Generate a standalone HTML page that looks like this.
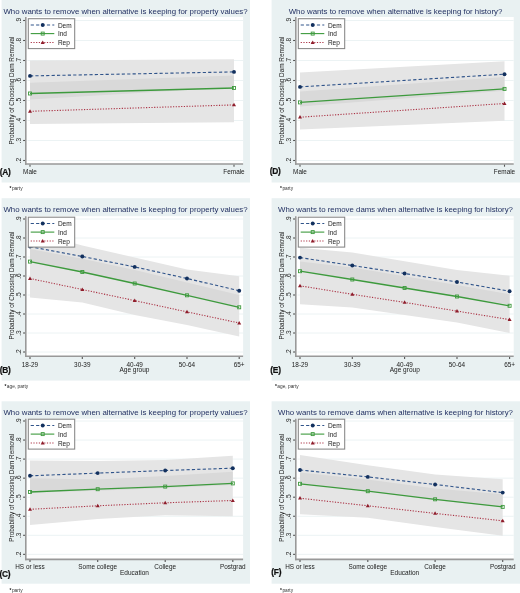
<!DOCTYPE html>
<html><head><meta charset="utf-8"><style>
html,body{margin:0;padding:0;background:#fff;}
body{width:520px;height:593px;overflow:hidden;font-family:"Liberation Sans", sans-serif;}
svg{display:block;will-change:transform;}
</style></head><body>
<svg width="520" height="593" viewBox="0 0 520 593" font-family="'Liberation Sans', sans-serif">
<rect x="1.6" y="0" width="248.4" height="182.5" fill="#e9f1f2"/>
<rect x="25.8" y="17" width="217.3" height="147" fill="#fff"/>
<text x="125.5" y="14.3" font-size="7.85" fill="#1d2b5e" text-anchor="middle">Who wants to remove when alternative is keeping for property values?</text>
<line x1="27.6" y1="20.5" x2="243.1" y2="20.5" stroke="#ecf3f4" stroke-width="1"/>
<line x1="27.6" y1="40.5" x2="243.1" y2="40.5" stroke="#ecf3f4" stroke-width="1"/>
<line x1="27.6" y1="60.5" x2="243.1" y2="60.5" stroke="#ecf3f4" stroke-width="1"/>
<line x1="27.6" y1="80.5" x2="243.1" y2="80.5" stroke="#ecf3f4" stroke-width="1"/>
<line x1="27.6" y1="100.5" x2="243.1" y2="100.5" stroke="#ecf3f4" stroke-width="1"/>
<line x1="27.6" y1="120.5" x2="243.1" y2="120.5" stroke="#ecf3f4" stroke-width="1"/>
<line x1="27.6" y1="140.5" x2="243.1" y2="140.5" stroke="#ecf3f4" stroke-width="1"/>
<line x1="27.6" y1="160.5" x2="243.1" y2="160.5" stroke="#ecf3f4" stroke-width="1"/>
<polygon points="30,60.6 234,59.2 234,122.3 30,124" fill="#e5e5e5"/>
<polygon points="30,82.8 234,75.4 234,87.2 30,99.4" fill="#d9d9d9"/>
<line x1="23.1" y1="20.5" x2="25.1" y2="20.5" stroke="#555555" stroke-width="1.1"/>
<text transform="translate(21.4,20.5) rotate(-90)" font-size="6.6" fill="#1a1a1a" text-anchor="middle">.9</text>
<line x1="23.1" y1="40.5" x2="25.1" y2="40.5" stroke="#555555" stroke-width="1.1"/>
<text transform="translate(21.4,40.5) rotate(-90)" font-size="6.6" fill="#1a1a1a" text-anchor="middle">.8</text>
<line x1="23.1" y1="60.5" x2="25.1" y2="60.5" stroke="#555555" stroke-width="1.1"/>
<text transform="translate(21.4,60.5) rotate(-90)" font-size="6.6" fill="#1a1a1a" text-anchor="middle">.7</text>
<line x1="23.1" y1="80.5" x2="25.1" y2="80.5" stroke="#555555" stroke-width="1.1"/>
<text transform="translate(21.4,80.5) rotate(-90)" font-size="6.6" fill="#1a1a1a" text-anchor="middle">.6</text>
<line x1="23.1" y1="100.5" x2="25.1" y2="100.5" stroke="#555555" stroke-width="1.1"/>
<text transform="translate(21.4,100.5) rotate(-90)" font-size="6.6" fill="#1a1a1a" text-anchor="middle">.5</text>
<line x1="23.1" y1="120.5" x2="25.1" y2="120.5" stroke="#555555" stroke-width="1.1"/>
<text transform="translate(21.4,120.5) rotate(-90)" font-size="6.6" fill="#1a1a1a" text-anchor="middle">.4</text>
<line x1="23.1" y1="140.5" x2="25.1" y2="140.5" stroke="#555555" stroke-width="1.1"/>
<text transform="translate(21.4,140.5) rotate(-90)" font-size="6.6" fill="#1a1a1a" text-anchor="middle">.3</text>
<line x1="23.1" y1="160.5" x2="25.1" y2="160.5" stroke="#555555" stroke-width="1.1"/>
<text transform="translate(21.4,160.5) rotate(-90)" font-size="6.6" fill="#1a1a1a" text-anchor="middle">.2</text>
<text transform="translate(14,90.5) rotate(-90)" font-size="6.4" fill="#1a1a1a" text-anchor="middle">Probability of Choosing Dam Removal</text>
<line x1="25.8" y1="17" x2="25.8" y2="164.8" stroke="#999999" stroke-width="1.6"/>
<line x1="25" y1="164" x2="243.1" y2="164" stroke="#999999" stroke-width="1.6"/>
<line x1="30" y1="164.7" x2="30" y2="166.7" stroke="#555555" stroke-width="1.1"/>
<text x="30" y="174.3" font-size="6.4" fill="#1a1a1a" text-anchor="middle">Male</text>
<line x1="234" y1="164.7" x2="234" y2="166.7" stroke="#555555" stroke-width="1.1"/>
<text x="234" y="174.3" font-size="6.4" fill="#1a1a1a" text-anchor="middle">Female</text>
<polyline points="30,75.9 234,71.9" fill="none" stroke="#30548a" stroke-width="1.1" stroke-dasharray="3.2 2.2"/>
<polyline points="30,93.5 234,88" fill="none" stroke="#3d9a3d" stroke-width="1.3"/>
<polyline points="30,111.3 234,104.9" fill="none" stroke="#ab3345" stroke-width="1.1" stroke-dasharray="1.2 1.5"/>
<circle cx="30" cy="75.9" r="1.95" fill="#12305e"/>
<circle cx="234" cy="71.9" r="1.95" fill="#12305e"/>
<rect x="28.5" y="92" width="3" height="3" fill="none" stroke="#3d9a3d" stroke-width="0.9"/>
<rect x="232.5" y="86.5" width="3" height="3" fill="none" stroke="#3d9a3d" stroke-width="0.9"/>
<polygon points="30,109.2 28,112.7 32,112.7" fill="#8e1c2a"/>
<polygon points="234,102.8 232,106.3 236,106.3" fill="#8e1c2a"/>
<rect x="28.3" y="18.7" width="46.4" height="29.9" fill="#fff" stroke="#858585" stroke-width="1.05"/>
<line x1="30.7" y1="25" x2="54.3" y2="25" stroke="#30548a" stroke-width="1.1" stroke-dasharray="3.2 2.2"/>
<circle cx="42.7" cy="25" r="1.95" fill="#12305e"/>
<text x="57.9" y="27.5" font-size="6.5" fill="#1a1a1a">Dem</text>
<line x1="30.7" y1="33.6" x2="54.3" y2="33.6" stroke="#3d9a3d" stroke-width="1.1"/>
<rect x="41.2" y="32.1" width="3" height="3" fill="none" stroke="#3d9a3d" stroke-width="0.9"/>
<text x="57.9" y="36.1" font-size="6.5" fill="#1a1a1a">Ind</text>
<line x1="30.7" y1="42.5" x2="54.3" y2="42.5" stroke="#ab3345" stroke-width="1.1" stroke-dasharray="1.2 1.5"/>
<polygon points="42.7,40.4 40.7,43.9 44.7,43.9" fill="#8e1c2a"/>
<text x="57.9" y="45" font-size="6.5" fill="#1a1a1a">Rep</text>
<text x="-0.3" y="174.8" font-size="8.4" font-weight="bold" letter-spacing="-0.25" fill="#111" stroke="#111" stroke-width="0.22">(A)</text>
<text x="9.5" y="190.2" font-size="4.8" font-weight="bold" fill="#111">*</text>
<text x="11.9" y="190" font-size="4.8" fill="#333">party</text>
<rect x="1.6" y="198.2" width="248.4" height="182.4" fill="#e9f1f2"/>
<rect x="25.8" y="216.2" width="217.3" height="140.1" fill="#fff"/>
<text x="125.5" y="212.3" font-size="7.85" fill="#1d2b5e" text-anchor="middle">Who wants to remove when alternative is keeping for property values?</text>
<line x1="27.6" y1="219" x2="243.1" y2="219" stroke="#ecf3f4" stroke-width="1"/>
<line x1="27.6" y1="238" x2="243.1" y2="238" stroke="#ecf3f4" stroke-width="1"/>
<line x1="27.6" y1="257" x2="243.1" y2="257" stroke="#ecf3f4" stroke-width="1"/>
<line x1="27.6" y1="276" x2="243.1" y2="276" stroke="#ecf3f4" stroke-width="1"/>
<line x1="27.6" y1="295" x2="243.1" y2="295" stroke="#ecf3f4" stroke-width="1"/>
<line x1="27.6" y1="314" x2="243.1" y2="314" stroke="#ecf3f4" stroke-width="1"/>
<line x1="27.6" y1="333" x2="243.1" y2="333" stroke="#ecf3f4" stroke-width="1"/>
<line x1="27.6" y1="352" x2="243.1" y2="352" stroke="#ecf3f4" stroke-width="1"/>
<polygon points="30,231.3 82.3,245.5 134.7,257.5 187,269.5 239.2,276.2 239.2,336.6 187,325 134.7,315 82.3,302.5 30,297.4" fill="#e5e5e5"/>
<polygon points="30,249 82.3,258.8 134.7,270 187,282.5 239.2,295 239.2,307.3 187,295.5 134.7,283.8 82.3,272.5 30,262" fill="#d9d9d9"/>
<line x1="23.1" y1="219" x2="25.1" y2="219" stroke="#555555" stroke-width="1.1"/>
<text transform="translate(21.4,219) rotate(-90)" font-size="6.6" fill="#1a1a1a" text-anchor="middle">.9</text>
<line x1="23.1" y1="238" x2="25.1" y2="238" stroke="#555555" stroke-width="1.1"/>
<text transform="translate(21.4,238) rotate(-90)" font-size="6.6" fill="#1a1a1a" text-anchor="middle">.8</text>
<line x1="23.1" y1="257" x2="25.1" y2="257" stroke="#555555" stroke-width="1.1"/>
<text transform="translate(21.4,257) rotate(-90)" font-size="6.6" fill="#1a1a1a" text-anchor="middle">.7</text>
<line x1="23.1" y1="276" x2="25.1" y2="276" stroke="#555555" stroke-width="1.1"/>
<text transform="translate(21.4,276) rotate(-90)" font-size="6.6" fill="#1a1a1a" text-anchor="middle">.6</text>
<line x1="23.1" y1="295" x2="25.1" y2="295" stroke="#555555" stroke-width="1.1"/>
<text transform="translate(21.4,295) rotate(-90)" font-size="6.6" fill="#1a1a1a" text-anchor="middle">.5</text>
<line x1="23.1" y1="314" x2="25.1" y2="314" stroke="#555555" stroke-width="1.1"/>
<text transform="translate(21.4,314) rotate(-90)" font-size="6.6" fill="#1a1a1a" text-anchor="middle">.4</text>
<line x1="23.1" y1="333" x2="25.1" y2="333" stroke="#555555" stroke-width="1.1"/>
<text transform="translate(21.4,333) rotate(-90)" font-size="6.6" fill="#1a1a1a" text-anchor="middle">.3</text>
<line x1="23.1" y1="352" x2="25.1" y2="352" stroke="#555555" stroke-width="1.1"/>
<text transform="translate(21.4,352) rotate(-90)" font-size="6.6" fill="#1a1a1a" text-anchor="middle">.2</text>
<text transform="translate(14,285.5) rotate(-90)" font-size="6.4" fill="#1a1a1a" text-anchor="middle">Probability of Choosing Dam Removal</text>
<line x1="25.8" y1="216.2" x2="25.8" y2="357.1" stroke="#999999" stroke-width="1.6"/>
<line x1="25" y1="356.3" x2="243.1" y2="356.3" stroke="#999999" stroke-width="1.6"/>
<line x1="30" y1="357" x2="30" y2="359" stroke="#555555" stroke-width="1.1"/>
<text x="30" y="366.8" font-size="6.4" fill="#1a1a1a" text-anchor="middle">18-29</text>
<line x1="82.3" y1="357" x2="82.3" y2="359" stroke="#555555" stroke-width="1.1"/>
<text x="82.3" y="366.8" font-size="6.4" fill="#1a1a1a" text-anchor="middle">30-39</text>
<line x1="134.7" y1="357" x2="134.7" y2="359" stroke="#555555" stroke-width="1.1"/>
<text x="134.7" y="366.8" font-size="6.4" fill="#1a1a1a" text-anchor="middle">40-49</text>
<line x1="187" y1="357" x2="187" y2="359" stroke="#555555" stroke-width="1.1"/>
<text x="187" y="366.8" font-size="6.4" fill="#1a1a1a" text-anchor="middle">50-64</text>
<line x1="239.2" y1="357" x2="239.2" y2="359" stroke="#555555" stroke-width="1.1"/>
<text x="239.2" y="366.8" font-size="6.4" fill="#1a1a1a" text-anchor="middle">65+</text>
<text x="134.45" y="372.3" font-size="6.5" fill="#1a1a1a" text-anchor="middle">Age group</text>
<polyline points="30,246.6 82.3,256.5 134.7,266.9 187,278.5 239.2,290.7" fill="none" stroke="#30548a" stroke-width="1.1" stroke-dasharray="3.2 2.2"/>
<polyline points="30,261.6 82.3,272 134.7,283.5 187,295.3 239.2,307.3" fill="none" stroke="#3d9a3d" stroke-width="1.3"/>
<polyline points="30,278.5 82.3,289.5 134.7,300.6 187,311.9 239.2,323" fill="none" stroke="#ab3345" stroke-width="1.1" stroke-dasharray="1.2 1.5"/>
<circle cx="30" cy="246.6" r="1.95" fill="#12305e"/>
<circle cx="82.3" cy="256.5" r="1.95" fill="#12305e"/>
<circle cx="134.7" cy="266.9" r="1.95" fill="#12305e"/>
<circle cx="187" cy="278.5" r="1.95" fill="#12305e"/>
<circle cx="239.2" cy="290.7" r="1.95" fill="#12305e"/>
<rect x="28.5" y="260.1" width="3" height="3" fill="none" stroke="#3d9a3d" stroke-width="0.9"/>
<rect x="80.8" y="270.5" width="3" height="3" fill="none" stroke="#3d9a3d" stroke-width="0.9"/>
<rect x="133.2" y="282" width="3" height="3" fill="none" stroke="#3d9a3d" stroke-width="0.9"/>
<rect x="185.5" y="293.8" width="3" height="3" fill="none" stroke="#3d9a3d" stroke-width="0.9"/>
<rect x="237.7" y="305.8" width="3" height="3" fill="none" stroke="#3d9a3d" stroke-width="0.9"/>
<polygon points="30,276.4 28,279.9 32,279.9" fill="#8e1c2a"/>
<polygon points="82.3,287.4 80.3,290.9 84.3,290.9" fill="#8e1c2a"/>
<polygon points="134.7,298.5 132.7,302 136.7,302" fill="#8e1c2a"/>
<polygon points="187,309.8 185,313.3 189,313.3" fill="#8e1c2a"/>
<polygon points="239.2,320.9 237.2,324.4 241.2,324.4" fill="#8e1c2a"/>
<rect x="28.3" y="217.2" width="46.4" height="29.9" fill="#fff" stroke="#858585" stroke-width="1.05"/>
<line x1="30.7" y1="223.5" x2="54.3" y2="223.5" stroke="#30548a" stroke-width="1.1" stroke-dasharray="3.2 2.2"/>
<circle cx="42.7" cy="223.5" r="1.95" fill="#12305e"/>
<text x="57.9" y="226" font-size="6.5" fill="#1a1a1a">Dem</text>
<line x1="30.7" y1="232.1" x2="54.3" y2="232.1" stroke="#3d9a3d" stroke-width="1.1"/>
<rect x="41.2" y="230.6" width="3" height="3" fill="none" stroke="#3d9a3d" stroke-width="0.9"/>
<text x="57.9" y="234.6" font-size="6.5" fill="#1a1a1a">Ind</text>
<line x1="30.7" y1="241" x2="54.3" y2="241" stroke="#ab3345" stroke-width="1.1" stroke-dasharray="1.2 1.5"/>
<polygon points="42.7,238.9 40.7,242.4 44.7,242.4" fill="#8e1c2a"/>
<text x="57.9" y="243.5" font-size="6.5" fill="#1a1a1a">Rep</text>
<text x="-0.3" y="373.4" font-size="8.4" font-weight="bold" letter-spacing="-0.25" fill="#111" stroke="#111" stroke-width="0.22">(B)</text>
<text x="4.5" y="387.8" font-size="4.8" font-weight="bold" fill="#111">*</text>
<text x="6.8" y="387.6" font-size="4.8" fill="#333">age, party</text>
<rect x="1.6" y="401.3" width="248.4" height="182.4" fill="#e9f1f2"/>
<rect x="25.8" y="418.7" width="217.3" height="140.7" fill="#fff"/>
<text x="125.5" y="415" font-size="7.85" fill="#1d2b5e" text-anchor="middle">Who wants to remove when alternative is keeping for property values?</text>
<line x1="27.6" y1="421" x2="243.1" y2="421" stroke="#ecf3f4" stroke-width="1"/>
<line x1="27.6" y1="440.05" x2="243.1" y2="440.05" stroke="#ecf3f4" stroke-width="1"/>
<line x1="27.6" y1="459.1" x2="243.1" y2="459.1" stroke="#ecf3f4" stroke-width="1"/>
<line x1="27.6" y1="478.15" x2="243.1" y2="478.15" stroke="#ecf3f4" stroke-width="1"/>
<line x1="27.6" y1="497.2" x2="243.1" y2="497.2" stroke="#ecf3f4" stroke-width="1"/>
<line x1="27.6" y1="516.25" x2="243.1" y2="516.25" stroke="#ecf3f4" stroke-width="1"/>
<line x1="27.6" y1="535.3" x2="243.1" y2="535.3" stroke="#ecf3f4" stroke-width="1"/>
<line x1="27.6" y1="554.35" x2="243.1" y2="554.35" stroke="#ecf3f4" stroke-width="1"/>
<polygon points="30,460.4 97.7,461.1 165.2,459.9 232.8,455.7 232.8,516.2 165.2,515.3 97.7,519.1 30,525" fill="#e5e5e5"/>
<polygon points="30,478.2 97.7,479.5 165.2,476 232.8,471.8 232.8,485 165.2,488 97.7,490.8 30,492.7" fill="#d9d9d9"/>
<line x1="23.1" y1="421" x2="25.1" y2="421" stroke="#555555" stroke-width="1.1"/>
<text transform="translate(21.4,421) rotate(-90)" font-size="6.6" fill="#1a1a1a" text-anchor="middle">.9</text>
<line x1="23.1" y1="440.05" x2="25.1" y2="440.05" stroke="#555555" stroke-width="1.1"/>
<text transform="translate(21.4,440.05) rotate(-90)" font-size="6.6" fill="#1a1a1a" text-anchor="middle">.8</text>
<line x1="23.1" y1="459.1" x2="25.1" y2="459.1" stroke="#555555" stroke-width="1.1"/>
<text transform="translate(21.4,459.1) rotate(-90)" font-size="6.6" fill="#1a1a1a" text-anchor="middle">.7</text>
<line x1="23.1" y1="478.15" x2="25.1" y2="478.15" stroke="#555555" stroke-width="1.1"/>
<text transform="translate(21.4,478.15) rotate(-90)" font-size="6.6" fill="#1a1a1a" text-anchor="middle">.6</text>
<line x1="23.1" y1="497.2" x2="25.1" y2="497.2" stroke="#555555" stroke-width="1.1"/>
<text transform="translate(21.4,497.2) rotate(-90)" font-size="6.6" fill="#1a1a1a" text-anchor="middle">.5</text>
<line x1="23.1" y1="516.25" x2="25.1" y2="516.25" stroke="#555555" stroke-width="1.1"/>
<text transform="translate(21.4,516.25) rotate(-90)" font-size="6.6" fill="#1a1a1a" text-anchor="middle">.4</text>
<line x1="23.1" y1="535.3" x2="25.1" y2="535.3" stroke="#555555" stroke-width="1.1"/>
<text transform="translate(21.4,535.3) rotate(-90)" font-size="6.6" fill="#1a1a1a" text-anchor="middle">.3</text>
<line x1="23.1" y1="554.35" x2="25.1" y2="554.35" stroke="#555555" stroke-width="1.1"/>
<text transform="translate(21.4,554.35) rotate(-90)" font-size="6.6" fill="#1a1a1a" text-anchor="middle">.2</text>
<text transform="translate(14,487.68) rotate(-90)" font-size="6.4" fill="#1a1a1a" text-anchor="middle">Probability of Choosing Dam Removal</text>
<line x1="25.8" y1="418.7" x2="25.8" y2="560.2" stroke="#999999" stroke-width="1.6"/>
<line x1="25" y1="559.4" x2="243.1" y2="559.4" stroke="#999999" stroke-width="1.6"/>
<line x1="30" y1="560.1" x2="30" y2="562.1" stroke="#555555" stroke-width="1.1"/>
<text x="30" y="569.1" font-size="6.4" fill="#1a1a1a" text-anchor="middle">HS or less</text>
<line x1="97.7" y1="560.1" x2="97.7" y2="562.1" stroke="#555555" stroke-width="1.1"/>
<text x="97.7" y="569.1" font-size="6.4" fill="#1a1a1a" text-anchor="middle">Some college</text>
<line x1="165.2" y1="560.1" x2="165.2" y2="562.1" stroke="#555555" stroke-width="1.1"/>
<text x="165.2" y="569.1" font-size="6.4" fill="#1a1a1a" text-anchor="middle">College</text>
<line x1="232.8" y1="560.1" x2="232.8" y2="562.1" stroke="#555555" stroke-width="1.1"/>
<text x="232.8" y="569.1" font-size="6.4" fill="#1a1a1a" text-anchor="middle">Postgrad</text>
<text x="134.45" y="574.9" font-size="6.5" fill="#1a1a1a" text-anchor="middle">Education</text>
<polyline points="30,475.8 97.7,473.1 165.2,470.5 232.8,468.2" fill="none" stroke="#30548a" stroke-width="1.1" stroke-dasharray="3.2 2.2"/>
<polyline points="30,492 97.7,489.2 165.2,486.6 232.8,483.4" fill="none" stroke="#3d9a3d" stroke-width="1.3"/>
<polyline points="30,509.3 97.7,505.8 165.2,502.8 232.8,500.5" fill="none" stroke="#ab3345" stroke-width="1.1" stroke-dasharray="1.2 1.5"/>
<circle cx="30" cy="475.8" r="1.95" fill="#12305e"/>
<circle cx="97.7" cy="473.1" r="1.95" fill="#12305e"/>
<circle cx="165.2" cy="470.5" r="1.95" fill="#12305e"/>
<circle cx="232.8" cy="468.2" r="1.95" fill="#12305e"/>
<rect x="28.5" y="490.5" width="3" height="3" fill="none" stroke="#3d9a3d" stroke-width="0.9"/>
<rect x="96.2" y="487.7" width="3" height="3" fill="none" stroke="#3d9a3d" stroke-width="0.9"/>
<rect x="163.7" y="485.1" width="3" height="3" fill="none" stroke="#3d9a3d" stroke-width="0.9"/>
<rect x="231.3" y="481.9" width="3" height="3" fill="none" stroke="#3d9a3d" stroke-width="0.9"/>
<polygon points="30,507.2 28,510.7 32,510.7" fill="#8e1c2a"/>
<polygon points="97.7,503.7 95.7,507.2 99.7,507.2" fill="#8e1c2a"/>
<polygon points="165.2,500.7 163.2,504.2 167.2,504.2" fill="#8e1c2a"/>
<polygon points="232.8,498.4 230.8,501.9 234.8,501.9" fill="#8e1c2a"/>
<rect x="28.3" y="419.2" width="46.4" height="29.9" fill="#fff" stroke="#858585" stroke-width="1.05"/>
<line x1="30.7" y1="425.5" x2="54.3" y2="425.5" stroke="#30548a" stroke-width="1.1" stroke-dasharray="3.2 2.2"/>
<circle cx="42.7" cy="425.5" r="1.95" fill="#12305e"/>
<text x="57.9" y="428" font-size="6.5" fill="#1a1a1a">Dem</text>
<line x1="30.7" y1="434.1" x2="54.3" y2="434.1" stroke="#3d9a3d" stroke-width="1.1"/>
<rect x="41.2" y="432.6" width="3" height="3" fill="none" stroke="#3d9a3d" stroke-width="0.9"/>
<text x="57.9" y="436.6" font-size="6.5" fill="#1a1a1a">Ind</text>
<line x1="30.7" y1="443" x2="54.3" y2="443" stroke="#ab3345" stroke-width="1.1" stroke-dasharray="1.2 1.5"/>
<polygon points="42.7,440.9 40.7,444.4 44.7,444.4" fill="#8e1c2a"/>
<text x="57.9" y="445.5" font-size="6.5" fill="#1a1a1a">Rep</text>
<text x="-0.6" y="577.3" font-size="8.4" font-weight="bold" letter-spacing="-0.25" fill="#111" stroke="#111" stroke-width="0.22">(C)</text>
<text x="9.5" y="592" font-size="4.8" font-weight="bold" fill="#111">*</text>
<text x="11.9" y="591.8" font-size="4.8" fill="#333">party</text>
<rect x="271.6" y="0" width="248.4" height="182.5" fill="#e9f1f2"/>
<rect x="295.8" y="17" width="217.9" height="147" fill="#fff"/>
<text x="395.5" y="14.3" font-size="7.85" fill="#1d2b5e" text-anchor="middle">Who wants to remove when alternative is keeping for history?</text>
<line x1="297.6" y1="20.5" x2="513.7" y2="20.5" stroke="#ecf3f4" stroke-width="1"/>
<line x1="297.6" y1="40.5" x2="513.7" y2="40.5" stroke="#ecf3f4" stroke-width="1"/>
<line x1="297.6" y1="60.5" x2="513.7" y2="60.5" stroke="#ecf3f4" stroke-width="1"/>
<line x1="297.6" y1="80.5" x2="513.7" y2="80.5" stroke="#ecf3f4" stroke-width="1"/>
<line x1="297.6" y1="100.5" x2="513.7" y2="100.5" stroke="#ecf3f4" stroke-width="1"/>
<line x1="297.6" y1="120.5" x2="513.7" y2="120.5" stroke="#ecf3f4" stroke-width="1"/>
<line x1="297.6" y1="140.5" x2="513.7" y2="140.5" stroke="#ecf3f4" stroke-width="1"/>
<line x1="297.6" y1="160.5" x2="513.7" y2="160.5" stroke="#ecf3f4" stroke-width="1"/>
<polygon points="300,72.6 504.5,61.2 504.5,120.8 300,129.6" fill="#e5e5e5"/>
<polygon points="300,91.5 504.5,76.9 504.5,90.8 300,106.5" fill="#d9d9d9"/>
<line x1="293.1" y1="20.5" x2="295.1" y2="20.5" stroke="#555555" stroke-width="1.1"/>
<text transform="translate(291.4,20.5) rotate(-90)" font-size="6.6" fill="#1a1a1a" text-anchor="middle">.9</text>
<line x1="293.1" y1="40.5" x2="295.1" y2="40.5" stroke="#555555" stroke-width="1.1"/>
<text transform="translate(291.4,40.5) rotate(-90)" font-size="6.6" fill="#1a1a1a" text-anchor="middle">.8</text>
<line x1="293.1" y1="60.5" x2="295.1" y2="60.5" stroke="#555555" stroke-width="1.1"/>
<text transform="translate(291.4,60.5) rotate(-90)" font-size="6.6" fill="#1a1a1a" text-anchor="middle">.7</text>
<line x1="293.1" y1="80.5" x2="295.1" y2="80.5" stroke="#555555" stroke-width="1.1"/>
<text transform="translate(291.4,80.5) rotate(-90)" font-size="6.6" fill="#1a1a1a" text-anchor="middle">.6</text>
<line x1="293.1" y1="100.5" x2="295.1" y2="100.5" stroke="#555555" stroke-width="1.1"/>
<text transform="translate(291.4,100.5) rotate(-90)" font-size="6.6" fill="#1a1a1a" text-anchor="middle">.5</text>
<line x1="293.1" y1="120.5" x2="295.1" y2="120.5" stroke="#555555" stroke-width="1.1"/>
<text transform="translate(291.4,120.5) rotate(-90)" font-size="6.6" fill="#1a1a1a" text-anchor="middle">.4</text>
<line x1="293.1" y1="140.5" x2="295.1" y2="140.5" stroke="#555555" stroke-width="1.1"/>
<text transform="translate(291.4,140.5) rotate(-90)" font-size="6.6" fill="#1a1a1a" text-anchor="middle">.3</text>
<line x1="293.1" y1="160.5" x2="295.1" y2="160.5" stroke="#555555" stroke-width="1.1"/>
<text transform="translate(291.4,160.5) rotate(-90)" font-size="6.6" fill="#1a1a1a" text-anchor="middle">.2</text>
<text transform="translate(284,90.5) rotate(-90)" font-size="6.4" fill="#1a1a1a" text-anchor="middle">Probability of Choosing Dam Removal</text>
<line x1="295.8" y1="17" x2="295.8" y2="164.8" stroke="#999999" stroke-width="1.6"/>
<line x1="295" y1="164" x2="513.7" y2="164" stroke="#999999" stroke-width="1.6"/>
<line x1="300" y1="164.7" x2="300" y2="166.7" stroke="#555555" stroke-width="1.1"/>
<text x="300" y="174.3" font-size="6.4" fill="#1a1a1a" text-anchor="middle">Male</text>
<line x1="504.5" y1="164.7" x2="504.5" y2="166.7" stroke="#555555" stroke-width="1.1"/>
<text x="504.5" y="174.3" font-size="6.4" fill="#1a1a1a" text-anchor="middle">Female</text>
<polyline points="300,86.9 504.5,74.2" fill="none" stroke="#30548a" stroke-width="1.1" stroke-dasharray="3.2 2.2"/>
<polyline points="300,102.4 504.5,88.9" fill="none" stroke="#3d9a3d" stroke-width="1.3"/>
<polyline points="300,117.2 504.5,103.5" fill="none" stroke="#ab3345" stroke-width="1.1" stroke-dasharray="1.2 1.5"/>
<circle cx="300" cy="86.9" r="1.95" fill="#12305e"/>
<circle cx="504.5" cy="74.2" r="1.95" fill="#12305e"/>
<rect x="298.5" y="100.9" width="3" height="3" fill="none" stroke="#3d9a3d" stroke-width="0.9"/>
<rect x="503" y="87.4" width="3" height="3" fill="none" stroke="#3d9a3d" stroke-width="0.9"/>
<polygon points="300,115.1 298,118.6 302,118.6" fill="#8e1c2a"/>
<polygon points="504.5,101.4 502.5,104.9 506.5,104.9" fill="#8e1c2a"/>
<rect x="298.3" y="18.7" width="46.4" height="29.9" fill="#fff" stroke="#858585" stroke-width="1.05"/>
<line x1="300.7" y1="25" x2="324.3" y2="25" stroke="#30548a" stroke-width="1.1" stroke-dasharray="3.2 2.2"/>
<circle cx="312.7" cy="25" r="1.95" fill="#12305e"/>
<text x="327.9" y="27.5" font-size="6.5" fill="#1a1a1a">Dem</text>
<line x1="300.7" y1="33.6" x2="324.3" y2="33.6" stroke="#3d9a3d" stroke-width="1.1"/>
<rect x="311.2" y="32.1" width="3" height="3" fill="none" stroke="#3d9a3d" stroke-width="0.9"/>
<text x="327.9" y="36.1" font-size="6.5" fill="#1a1a1a">Ind</text>
<line x1="300.7" y1="42.5" x2="324.3" y2="42.5" stroke="#ab3345" stroke-width="1.1" stroke-dasharray="1.2 1.5"/>
<polygon points="312.7,40.4 310.7,43.9 314.7,43.9" fill="#8e1c2a"/>
<text x="327.9" y="45" font-size="6.5" fill="#1a1a1a">Rep</text>
<text x="269.7" y="174.4" font-size="8.4" font-weight="bold" letter-spacing="-0.25" fill="#111" stroke="#111" stroke-width="0.22">(D)</text>
<text x="280" y="190.2" font-size="4.8" font-weight="bold" fill="#111">*</text>
<text x="282.4" y="190" font-size="4.8" fill="#333">party</text>
<rect x="271.6" y="198.2" width="248.4" height="182.4" fill="#e9f1f2"/>
<rect x="295.8" y="216.2" width="217.9" height="140.1" fill="#fff"/>
<text x="395.5" y="212.3" font-size="7.85" fill="#1d2b5e" text-anchor="middle">Who wants to remove dams when alternative is keeping for history?</text>
<line x1="297.6" y1="219" x2="513.7" y2="219" stroke="#ecf3f4" stroke-width="1"/>
<line x1="297.6" y1="238" x2="513.7" y2="238" stroke="#ecf3f4" stroke-width="1"/>
<line x1="297.6" y1="257" x2="513.7" y2="257" stroke="#ecf3f4" stroke-width="1"/>
<line x1="297.6" y1="276" x2="513.7" y2="276" stroke="#ecf3f4" stroke-width="1"/>
<line x1="297.6" y1="295" x2="513.7" y2="295" stroke="#ecf3f4" stroke-width="1"/>
<line x1="297.6" y1="314" x2="513.7" y2="314" stroke="#ecf3f4" stroke-width="1"/>
<line x1="297.6" y1="333" x2="513.7" y2="333" stroke="#ecf3f4" stroke-width="1"/>
<line x1="297.6" y1="352" x2="513.7" y2="352" stroke="#ecf3f4" stroke-width="1"/>
<polygon points="300,247.7 352.3,252.5 404.6,261.2 457,270 509.6,275.8 509.6,333 457,322.5 404.6,315 352.3,307.5 300,304.2" fill="#e5e5e5"/>
<polygon points="300,261.5 352.3,267.5 404.6,276.2 457,285 509.6,294.2 509.6,304.6 457,297 404.6,287.5 352.3,278.8 300,271.2" fill="#d9d9d9"/>
<line x1="293.1" y1="219" x2="295.1" y2="219" stroke="#555555" stroke-width="1.1"/>
<text transform="translate(291.4,219) rotate(-90)" font-size="6.6" fill="#1a1a1a" text-anchor="middle">.9</text>
<line x1="293.1" y1="238" x2="295.1" y2="238" stroke="#555555" stroke-width="1.1"/>
<text transform="translate(291.4,238) rotate(-90)" font-size="6.6" fill="#1a1a1a" text-anchor="middle">.8</text>
<line x1="293.1" y1="257" x2="295.1" y2="257" stroke="#555555" stroke-width="1.1"/>
<text transform="translate(291.4,257) rotate(-90)" font-size="6.6" fill="#1a1a1a" text-anchor="middle">.7</text>
<line x1="293.1" y1="276" x2="295.1" y2="276" stroke="#555555" stroke-width="1.1"/>
<text transform="translate(291.4,276) rotate(-90)" font-size="6.6" fill="#1a1a1a" text-anchor="middle">.6</text>
<line x1="293.1" y1="295" x2="295.1" y2="295" stroke="#555555" stroke-width="1.1"/>
<text transform="translate(291.4,295) rotate(-90)" font-size="6.6" fill="#1a1a1a" text-anchor="middle">.5</text>
<line x1="293.1" y1="314" x2="295.1" y2="314" stroke="#555555" stroke-width="1.1"/>
<text transform="translate(291.4,314) rotate(-90)" font-size="6.6" fill="#1a1a1a" text-anchor="middle">.4</text>
<line x1="293.1" y1="333" x2="295.1" y2="333" stroke="#555555" stroke-width="1.1"/>
<text transform="translate(291.4,333) rotate(-90)" font-size="6.6" fill="#1a1a1a" text-anchor="middle">.3</text>
<line x1="293.1" y1="352" x2="295.1" y2="352" stroke="#555555" stroke-width="1.1"/>
<text transform="translate(291.4,352) rotate(-90)" font-size="6.6" fill="#1a1a1a" text-anchor="middle">.2</text>
<text transform="translate(284,285.5) rotate(-90)" font-size="6.4" fill="#1a1a1a" text-anchor="middle">Probability of Choosing Dam Removal</text>
<line x1="295.8" y1="216.2" x2="295.8" y2="357.1" stroke="#999999" stroke-width="1.6"/>
<line x1="295" y1="356.3" x2="513.7" y2="356.3" stroke="#999999" stroke-width="1.6"/>
<line x1="300" y1="357" x2="300" y2="359" stroke="#555555" stroke-width="1.1"/>
<text x="300" y="366.8" font-size="6.4" fill="#1a1a1a" text-anchor="middle">18-29</text>
<line x1="352.3" y1="357" x2="352.3" y2="359" stroke="#555555" stroke-width="1.1"/>
<text x="352.3" y="366.8" font-size="6.4" fill="#1a1a1a" text-anchor="middle">30-39</text>
<line x1="404.6" y1="357" x2="404.6" y2="359" stroke="#555555" stroke-width="1.1"/>
<text x="404.6" y="366.8" font-size="6.4" fill="#1a1a1a" text-anchor="middle">40-49</text>
<line x1="457" y1="357" x2="457" y2="359" stroke="#555555" stroke-width="1.1"/>
<text x="457" y="366.8" font-size="6.4" fill="#1a1a1a" text-anchor="middle">50-64</text>
<line x1="509.6" y1="357" x2="509.6" y2="359" stroke="#555555" stroke-width="1.1"/>
<text x="509.6" y="366.8" font-size="6.4" fill="#1a1a1a" text-anchor="middle">65+</text>
<text x="404.75" y="372.3" font-size="6.5" fill="#1a1a1a" text-anchor="middle">Age group</text>
<polyline points="300,257.6 352.3,265.5 404.6,273.5 457,282 509.6,291.2" fill="none" stroke="#30548a" stroke-width="1.1" stroke-dasharray="3.2 2.2"/>
<polyline points="300,271.2 352.3,279.5 404.6,288 457,296.5 509.6,305.8" fill="none" stroke="#3d9a3d" stroke-width="1.3"/>
<polyline points="300,285.8 352.3,294.3 404.6,302.4 457,311.1 509.6,319.6" fill="none" stroke="#ab3345" stroke-width="1.1" stroke-dasharray="1.2 1.5"/>
<circle cx="300" cy="257.6" r="1.95" fill="#12305e"/>
<circle cx="352.3" cy="265.5" r="1.95" fill="#12305e"/>
<circle cx="404.6" cy="273.5" r="1.95" fill="#12305e"/>
<circle cx="457" cy="282" r="1.95" fill="#12305e"/>
<circle cx="509.6" cy="291.2" r="1.95" fill="#12305e"/>
<rect x="298.5" y="269.7" width="3" height="3" fill="none" stroke="#3d9a3d" stroke-width="0.9"/>
<rect x="350.8" y="278" width="3" height="3" fill="none" stroke="#3d9a3d" stroke-width="0.9"/>
<rect x="403.1" y="286.5" width="3" height="3" fill="none" stroke="#3d9a3d" stroke-width="0.9"/>
<rect x="455.5" y="295" width="3" height="3" fill="none" stroke="#3d9a3d" stroke-width="0.9"/>
<rect x="508.1" y="304.3" width="3" height="3" fill="none" stroke="#3d9a3d" stroke-width="0.9"/>
<polygon points="300,283.7 298,287.2 302,287.2" fill="#8e1c2a"/>
<polygon points="352.3,292.2 350.3,295.7 354.3,295.7" fill="#8e1c2a"/>
<polygon points="404.6,300.3 402.6,303.8 406.6,303.8" fill="#8e1c2a"/>
<polygon points="457,309 455,312.5 459,312.5" fill="#8e1c2a"/>
<polygon points="509.6,317.5 507.6,321 511.6,321" fill="#8e1c2a"/>
<rect x="298.3" y="217.2" width="46.4" height="29.9" fill="#fff" stroke="#858585" stroke-width="1.05"/>
<line x1="300.7" y1="223.5" x2="324.3" y2="223.5" stroke="#30548a" stroke-width="1.1" stroke-dasharray="3.2 2.2"/>
<circle cx="312.7" cy="223.5" r="1.95" fill="#12305e"/>
<text x="327.9" y="226" font-size="6.5" fill="#1a1a1a">Dem</text>
<line x1="300.7" y1="232.1" x2="324.3" y2="232.1" stroke="#3d9a3d" stroke-width="1.1"/>
<rect x="311.2" y="230.6" width="3" height="3" fill="none" stroke="#3d9a3d" stroke-width="0.9"/>
<text x="327.9" y="234.6" font-size="6.5" fill="#1a1a1a">Ind</text>
<line x1="300.7" y1="241" x2="324.3" y2="241" stroke="#ab3345" stroke-width="1.1" stroke-dasharray="1.2 1.5"/>
<polygon points="312.7,238.9 310.7,242.4 314.7,242.4" fill="#8e1c2a"/>
<text x="327.9" y="243.5" font-size="6.5" fill="#1a1a1a">Rep</text>
<text x="270.3" y="373.4" font-size="8.4" font-weight="bold" letter-spacing="-0.25" fill="#111" stroke="#111" stroke-width="0.22">(E)</text>
<text x="275" y="387.8" font-size="4.8" font-weight="bold" fill="#111">*</text>
<text x="277.3" y="387.6" font-size="4.8" fill="#333">age, party</text>
<rect x="271.6" y="401.3" width="248.4" height="182.4" fill="#e9f1f2"/>
<rect x="295.8" y="418.7" width="217.9" height="140.7" fill="#fff"/>
<text x="395.5" y="415" font-size="7.85" fill="#1d2b5e" text-anchor="middle">Who wants to remove dams when alternative is keeping for history?</text>
<line x1="297.6" y1="421" x2="513.7" y2="421" stroke="#ecf3f4" stroke-width="1"/>
<line x1="297.6" y1="440.05" x2="513.7" y2="440.05" stroke="#ecf3f4" stroke-width="1"/>
<line x1="297.6" y1="459.1" x2="513.7" y2="459.1" stroke="#ecf3f4" stroke-width="1"/>
<line x1="297.6" y1="478.15" x2="513.7" y2="478.15" stroke="#ecf3f4" stroke-width="1"/>
<line x1="297.6" y1="497.2" x2="513.7" y2="497.2" stroke="#ecf3f4" stroke-width="1"/>
<line x1="297.6" y1="516.25" x2="513.7" y2="516.25" stroke="#ecf3f4" stroke-width="1"/>
<line x1="297.6" y1="535.3" x2="513.7" y2="535.3" stroke="#ecf3f4" stroke-width="1"/>
<line x1="297.6" y1="554.35" x2="513.7" y2="554.35" stroke="#ecf3f4" stroke-width="1"/>
<polygon points="300,455 367.8,465.2 435.1,474.6 502.7,479.2 502.7,535.8 435.1,527 367.8,517.7 300,514.3" fill="#e5e5e5"/>
<polygon points="300,472.5 367.8,479.5 435.1,488.5 502.7,494.2 502.7,507 435.1,500.2 367.8,491.3 300,483.8" fill="#d9d9d9"/>
<line x1="293.1" y1="421" x2="295.1" y2="421" stroke="#555555" stroke-width="1.1"/>
<text transform="translate(291.4,421) rotate(-90)" font-size="6.6" fill="#1a1a1a" text-anchor="middle">.9</text>
<line x1="293.1" y1="440.05" x2="295.1" y2="440.05" stroke="#555555" stroke-width="1.1"/>
<text transform="translate(291.4,440.05) rotate(-90)" font-size="6.6" fill="#1a1a1a" text-anchor="middle">.8</text>
<line x1="293.1" y1="459.1" x2="295.1" y2="459.1" stroke="#555555" stroke-width="1.1"/>
<text transform="translate(291.4,459.1) rotate(-90)" font-size="6.6" fill="#1a1a1a" text-anchor="middle">.7</text>
<line x1="293.1" y1="478.15" x2="295.1" y2="478.15" stroke="#555555" stroke-width="1.1"/>
<text transform="translate(291.4,478.15) rotate(-90)" font-size="6.6" fill="#1a1a1a" text-anchor="middle">.6</text>
<line x1="293.1" y1="497.2" x2="295.1" y2="497.2" stroke="#555555" stroke-width="1.1"/>
<text transform="translate(291.4,497.2) rotate(-90)" font-size="6.6" fill="#1a1a1a" text-anchor="middle">.5</text>
<line x1="293.1" y1="516.25" x2="295.1" y2="516.25" stroke="#555555" stroke-width="1.1"/>
<text transform="translate(291.4,516.25) rotate(-90)" font-size="6.6" fill="#1a1a1a" text-anchor="middle">.4</text>
<line x1="293.1" y1="535.3" x2="295.1" y2="535.3" stroke="#555555" stroke-width="1.1"/>
<text transform="translate(291.4,535.3) rotate(-90)" font-size="6.6" fill="#1a1a1a" text-anchor="middle">.3</text>
<line x1="293.1" y1="554.35" x2="295.1" y2="554.35" stroke="#555555" stroke-width="1.1"/>
<text transform="translate(291.4,554.35) rotate(-90)" font-size="6.6" fill="#1a1a1a" text-anchor="middle">.2</text>
<text transform="translate(284,487.68) rotate(-90)" font-size="6.4" fill="#1a1a1a" text-anchor="middle">Probability of Choosing Dam Removal</text>
<line x1="295.8" y1="418.7" x2="295.8" y2="560.2" stroke="#999999" stroke-width="1.6"/>
<line x1="295" y1="559.4" x2="513.7" y2="559.4" stroke="#999999" stroke-width="1.6"/>
<line x1="300" y1="560.1" x2="300" y2="562.1" stroke="#555555" stroke-width="1.1"/>
<text x="300" y="569.1" font-size="6.4" fill="#1a1a1a" text-anchor="middle">HS or less</text>
<line x1="367.8" y1="560.1" x2="367.8" y2="562.1" stroke="#555555" stroke-width="1.1"/>
<text x="367.8" y="569.1" font-size="6.4" fill="#1a1a1a" text-anchor="middle">Some college</text>
<line x1="435.1" y1="560.1" x2="435.1" y2="562.1" stroke="#555555" stroke-width="1.1"/>
<text x="435.1" y="569.1" font-size="6.4" fill="#1a1a1a" text-anchor="middle">College</text>
<line x1="502.7" y1="560.1" x2="502.7" y2="562.1" stroke="#555555" stroke-width="1.1"/>
<text x="502.7" y="569.1" font-size="6.4" fill="#1a1a1a" text-anchor="middle">Postgrad</text>
<text x="404.75" y="574.9" font-size="6.5" fill="#1a1a1a" text-anchor="middle">Education</text>
<polyline points="300,470 367.8,476.9 435.1,484.5 502.7,492.6" fill="none" stroke="#30548a" stroke-width="1.1" stroke-dasharray="3.2 2.2"/>
<polyline points="300,483.8 367.8,491.2 435.1,499.3 502.7,506.9" fill="none" stroke="#3d9a3d" stroke-width="1.3"/>
<polyline points="300,498.2 367.8,505.8 435.1,513.4 502.7,520.8" fill="none" stroke="#ab3345" stroke-width="1.1" stroke-dasharray="1.2 1.5"/>
<circle cx="300" cy="470" r="1.95" fill="#12305e"/>
<circle cx="367.8" cy="476.9" r="1.95" fill="#12305e"/>
<circle cx="435.1" cy="484.5" r="1.95" fill="#12305e"/>
<circle cx="502.7" cy="492.6" r="1.95" fill="#12305e"/>
<rect x="298.5" y="482.3" width="3" height="3" fill="none" stroke="#3d9a3d" stroke-width="0.9"/>
<rect x="366.3" y="489.7" width="3" height="3" fill="none" stroke="#3d9a3d" stroke-width="0.9"/>
<rect x="433.6" y="497.8" width="3" height="3" fill="none" stroke="#3d9a3d" stroke-width="0.9"/>
<rect x="501.2" y="505.4" width="3" height="3" fill="none" stroke="#3d9a3d" stroke-width="0.9"/>
<polygon points="300,496.1 298,499.6 302,499.6" fill="#8e1c2a"/>
<polygon points="367.8,503.7 365.8,507.2 369.8,507.2" fill="#8e1c2a"/>
<polygon points="435.1,511.3 433.1,514.8 437.1,514.8" fill="#8e1c2a"/>
<polygon points="502.7,518.7 500.7,522.2 504.7,522.2" fill="#8e1c2a"/>
<rect x="298.3" y="419.2" width="46.4" height="29.9" fill="#fff" stroke="#858585" stroke-width="1.05"/>
<line x1="300.7" y1="425.5" x2="324.3" y2="425.5" stroke="#30548a" stroke-width="1.1" stroke-dasharray="3.2 2.2"/>
<circle cx="312.7" cy="425.5" r="1.95" fill="#12305e"/>
<text x="327.9" y="428" font-size="6.5" fill="#1a1a1a">Dem</text>
<line x1="300.7" y1="434.1" x2="324.3" y2="434.1" stroke="#3d9a3d" stroke-width="1.1"/>
<rect x="311.2" y="432.6" width="3" height="3" fill="none" stroke="#3d9a3d" stroke-width="0.9"/>
<text x="327.9" y="436.6" font-size="6.5" fill="#1a1a1a">Ind</text>
<line x1="300.7" y1="443" x2="324.3" y2="443" stroke="#ab3345" stroke-width="1.1" stroke-dasharray="1.2 1.5"/>
<polygon points="312.7,440.9 310.7,444.4 314.7,444.4" fill="#8e1c2a"/>
<text x="327.9" y="445.5" font-size="6.5" fill="#1a1a1a">Rep</text>
<text x="271.3" y="575.1" font-size="8.4" font-weight="bold" letter-spacing="-0.25" fill="#111" stroke="#111" stroke-width="0.22">(F)</text>
<text x="280" y="592" font-size="4.8" font-weight="bold" fill="#111">*</text>
<text x="282.4" y="591.8" font-size="4.8" fill="#333">party</text>
</svg>
</body></html>
